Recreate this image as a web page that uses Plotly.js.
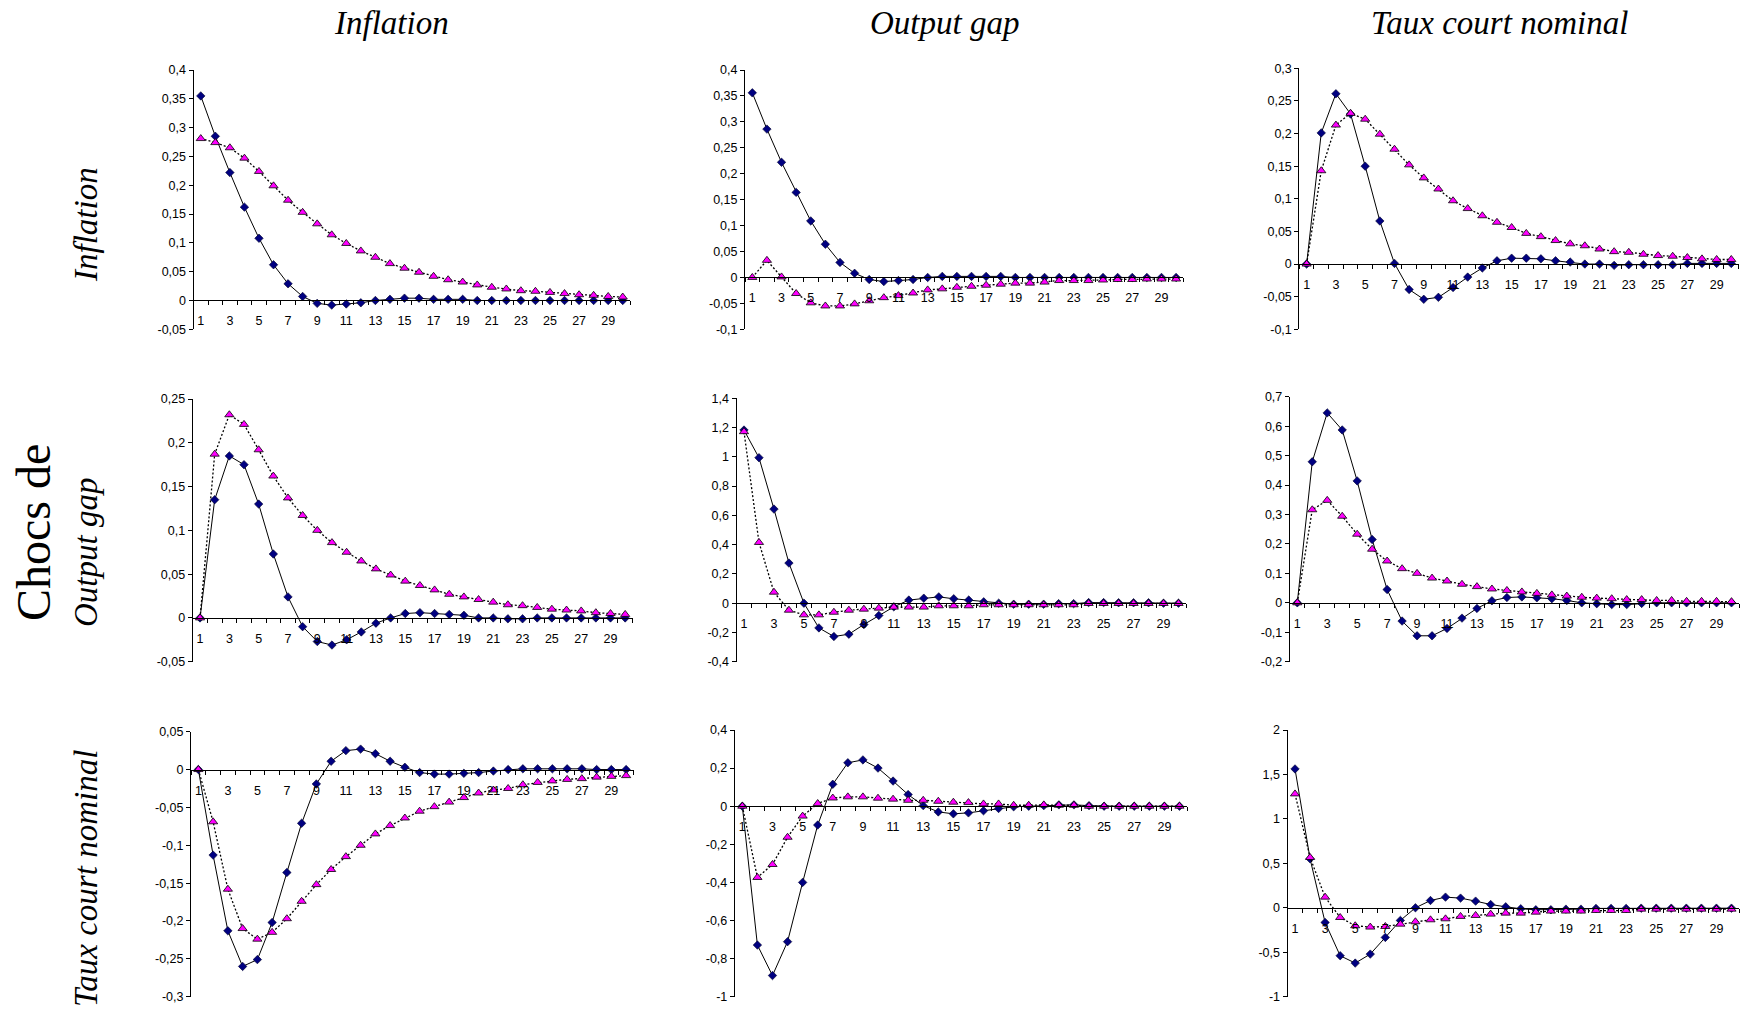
<!DOCTYPE html>
<html><head><meta charset="utf-8">
<script src="https://cdn.plot.ly/plotly-3.0.1.min.js"></script>
<style>html,body{margin:0;padding:0;background:#fff}#chart{width:1742px;height:1015px}</style>
</head><body><div id="chart"></div>
<script>
// ---------- data ----------
const periods = [1,2,3,4,5,6,7,8,9,10,11,12,13,14,15,16,17,18,19,20,21,22,23,24,25,26,27,28,29,30];
const xTickVals = [1,3,5,7,9,11,13,15,17,19,21,23,25,27,29];
const xTickText = ['1','3','5','7','9','11','13','15','17','19','21','23','25','27','29'];

const columnTitles = ['Inflation','Output gap','Taux court nominal'];
const rowTitles = ['Inflation','Output gap','Taux court nominal'];
const shockLabel = 'Chocs de';

// Shock: Inflation
const inflInfl_A = [0.355,0.285,0.222,0.162,0.108,0.062,0.029,0.007,-0.005,-0.008,-0.006,-0.004,0.000,0.002,0.004,0.004,0.002,0.002,0.002,0.000,0,0,0,0,0,0,0,0,0,0];
const inflInfl_B = [0.281,0.274,0.265,0.247,0.224,0.199,0.174,0.153,0.133,0.114,0.099,0.086,0.075,0.064,0.056,0.049,0.042,0.036,0.032,0.027,0.023,0.020,0.017,0.016,0.014,0.012,0.010,0.009,0.007,0.006];
const inflGap_A = [0.356,0.286,0.222,0.164,0.109,0.064,0.029,0.008,-0.004,-0.008,-0.006,-0.004,0.000,0.002,0.002,0.002,0.002,0.002,0,0,0,0,0,0,0,0,0,0,0,0];
const inflGap_B = [0.000,0.033,0.001,-0.031,-0.049,-0.055,-0.055,-0.051,-0.045,-0.039,-0.035,-0.030,-0.024,-0.022,-0.019,-0.017,-0.015,-0.013,-0.011,-0.011,-0.009,-0.006,-0.006,-0.006,-0.005,-0.004,-0.004,-0.003,-0.003,-0.003];
const inflRate_A = [0,0.201,0.261,0.230,0.150,0.066,0.001,-0.039,-0.054,-0.051,-0.036,-0.020,-0.006,0.005,0.009,0.009,0.008,0.005,0.003,0,0,-0.002,-0.001,-0.001,-0.001,-0.001,0.001,0.001,0.001,0.001];
const inflRate_B = [0,0.143,0.213,0.231,0.222,0.199,0.176,0.152,0.132,0.115,0.097,0.085,0.074,0.064,0.056,0.047,0.042,0.036,0.031,0.028,0.023,0.019,0.018,0.015,0.013,0.012,0.010,0.008,0.007,0.007];

// Shock: Output gap
const gapInfl_A = [0,0.135,0.185,0.175,0.130,0.073,0.024,-0.010,-0.027,-0.031,-0.025,-0.016,-0.006,0,0.005,0.006,0.005,0.004,0.003,0,0,-0.001,-0.001,0,0,0,0,0,0,0];
const gapInfl_B = [0,0.187,0.232,0.221,0.192,0.162,0.137,0.117,0.100,0.086,0.075,0.065,0.056,0.049,0.042,0.037,0.032,0.027,0.024,0.021,0.018,0.015,0.014,0.012,0.010,0.009,0.008,0.006,0.005,0.004];
const gapGap_A = [1.183,0.994,0.643,0.274,0,-0.169,-0.228,-0.212,-0.146,-0.084,-0.025,0.021,0.034,0.043,0.030,0.021,0.009,0,-0.007,-0.007,-0.007,-0.003,-0.003,0.004,0.004,0.003,0.003,0.003,0,0];
const gapGap_B = [1.172,0.415,0.075,-0.048,-0.080,-0.080,-0.062,-0.048,-0.041,-0.034,-0.027,-0.027,-0.027,-0.018,-0.018,-0.018,-0.011,-0.011,-0.011,-0.011,-0.011,-0.011,-0.011,-0.002,-0.002,-0.002,-0.002,-0.002,-0.002,-0.002];
const gapRate_A = [0,0.479,0.645,0.587,0.414,0.215,0.045,-0.062,-0.112,-0.112,-0.087,-0.052,-0.019,0.007,0.018,0.020,0.017,0.014,0.008,0,-0.003,-0.006,-0.006,-0.002,0,0,0,0,0,0];
const gapRate_B = [0,0.316,0.348,0.294,0.233,0.182,0.142,0.116,0.100,0.084,0.074,0.063,0.055,0.047,0.042,0.037,0.032,0.027,0.023,0.019,0.016,0.014,0.011,0.011,0.008,0.008,0.005,0.005,0.005,0.004];

// Shock: Taux court nominal
const rateInfl_A = [0,-0.113,-0.213,-0.260,-0.251,-0.202,-0.136,-0.071,-0.019,0.011,0.025,0.027,0.021,0.011,0.003,-0.004,-0.006,-0.006,-0.005,-0.004,-0.002,0,0.001,0.001,0.001,0.001,0.001,0,0,0];
const rateInfl_B = [0,-0.069,-0.158,-0.210,-0.224,-0.215,-0.197,-0.174,-0.152,-0.132,-0.115,-0.100,-0.085,-0.074,-0.064,-0.055,-0.049,-0.043,-0.037,-0.031,-0.027,-0.025,-0.020,-0.017,-0.015,-0.013,-0.012,-0.010,-0.009,-0.008];
const rateGap_A = [0,-0.729,-0.889,-0.711,-0.400,-0.099,0.115,0.228,0.243,0.200,0.132,0.061,0.003,-0.030,-0.040,-0.035,-0.024,-0.012,-0.003,0,0.003,0.007,0.007,0.003,0,0,0,0,0,0];
const rateGap_B = [0,-0.374,-0.306,-0.163,-0.052,0.014,0.043,0.049,0.049,0.042,0.037,0.031,0.031,0.026,0.021,0.019,0.012,0.012,0.005,0.005,0.007,0.005,0.005,0,0,0,0,0,0,0];
const rateRate_A = [1.562,0.551,-0.165,-0.539,-0.622,-0.521,-0.333,-0.142,0,0.082,0.120,0.109,0.075,0.037,0.011,-0.011,-0.022,-0.022,-0.015,-0.015,-0.007,-0.007,-0.007,-0.004,-0.004,-0.004,-0.004,-0.004,-0.004,-0.004];
const rateRate_B = [1.281,0.566,0.120,-0.109,-0.202,-0.217,-0.210,-0.184,-0.157,-0.135,-0.124,-0.097,-0.086,-0.071,-0.060,-0.060,-0.049,-0.037,-0.037,-0.037,-0.030,-0.030,-0.030,-0.015,-0.015,-0.015,-0.015,-0.015,-0.015,-0.015];

// y tick values / labels per panel
const yVals11 = [-0.05,0,0.05,0.1,0.15,0.2,0.25,0.3,0.35,0.4];
const yText11 = ['-0,05','0','0,05','0,1','0,15','0,2','0,25','0,3','0,35','0,4'];
const yVals12 = [-0.1,-0.05,0,0.05,0.1,0.15,0.2,0.25,0.3,0.35,0.4];
const yText12 = ['-0,1','-0,05','0','0,05','0,1','0,15','0,2','0,25','0,3','0,35','0,4'];
const yVals13 = [-0.1,-0.05,0,0.05,0.1,0.15,0.2,0.25,0.3];
const yText13 = ['-0,1','-0,05','0','0,05','0,1','0,15','0,2','0,25','0,3'];
const yVals21 = [-0.05,0,0.05,0.1,0.15,0.2,0.25];
const yText21 = ['-0,05','0','0,05','0,1','0,15','0,2','0,25'];
const yVals22 = [-0.4,-0.2,0,0.2,0.4,0.6,0.8,1,1.2,1.4];
const yText22 = ['-0,4','-0,2','0','0,2','0,4','0,6','0,8','1','1,2','1,4'];
const yVals23 = [-0.2,-0.1,0,0.1,0.2,0.3,0.4,0.5,0.6,0.7];
const yText23 = ['-0,2','-0,1','0','0,1','0,2','0,3','0,4','0,5','0,6','0,7'];
const yVals31 = [-0.3,-0.25,-0.2,-0.15,-0.1,-0.05,0,0.05];
const yText31 = ['-0,3','-0,25','-0,2','-0,15','-0,1','-0,05','0','0,05'];
const yVals32 = [-1,-0.8,-0.6,-0.4,-0.2,0,0.2,0.4];
const yText32 = ['-1','-0,8','-0,6','-0,4','-0,2','0','0,2','0,4'];
const yVals33 = [-1,-0.5,0,0.5,1,1.5,2];
const yText33 = ['-1','-0,5','0','0,5','1','1,5','2'];

// ---------- layout geometry (pixels: left, right, top, bottom) ----------
const W = 1742, H = 1015;
const boxes = [
  [193.5,630,70,329.3],[745,1183.4,70,329.3],[1299.3,1738.6,68.3,329.3],
  [192.7,632.5,399,661.7],[736.5,1186,398.3,661.7],[1289.8,1739,396.7,661.7],
  [191,633.5,731.7,996.7],[734.8,1187,730,996.7],[1287.5,1739,730,996.7]
];

const panels = [
  [inflInfl_A, inflInfl_B, yVals11, yText11],
  [inflGap_A,  inflGap_B,  yVals12, yText12],
  [inflRate_A, inflRate_B, yVals13, yText13],
  [gapInfl_A,  gapInfl_B,  yVals21, yText21],
  [gapGap_A,   gapGap_B,   yVals22, yText22],
  [gapRate_A,  gapRate_B,  yVals23, yText23],
  [rateInfl_A, rateInfl_B, yVals31, yText31],
  [rateGap_A,  rateGap_B,  yVals32, yText32],
  [rateRate_A, rateRate_B, yVals33, yText33]
];

const tickFont = {family:'Liberation Sans, Arial, sans-serif', size:12.5, color:'#000'};
const boundaries = [0.5].concat(periods.map(p => p + 0.5));

const traces = [];
const layout = {
  width: W, height: H,
  margin: {l:0, r:0, t:0, b:0},
  paper_bgcolor: '#fff', plot_bgcolor: '#fff',
  showlegend: false,
  annotations: []
};

panels.forEach((p, i) => {
  const k = i + 1;
  const xa = k === 1 ? 'x' : 'x' + k;
  const ya = k === 1 ? 'y' : 'y' + k;
  const [A, B, yv, yt] = p;
  const [l, r, t, b] = boxes[i];
  const ymin = yv[0], ymax = yv[yv.length - 1];
  const yd0 = 1 - b / H, yd1 = 1 - t / H;
  const zeroPos = yd0 + (0 - ymin) / (ymax - ymin) * (yd1 - yd0);

  traces.push({
    x: periods, y: A, xaxis: xa, yaxis: ya, type: 'scatter', mode: 'lines+markers',
    line: {color: '#000', width: 1},
    marker: {symbol: 'diamond', size: 6.5, color: '#000080', line: {color: '#00002a', width: 0.6}},
    hoverinfo: 'skip'
  });
  traces.push({
    x: periods, y: B, xaxis: xa, yaxis: ya, type: 'scatter', mode: 'lines+markers',
    line: {color: '#000', width: 1.3, dash: '2px,2px'},
    marker: {symbol: 'triangle-up', size: 8, color: '#ff00ff', line: {color: '#000', width: 0.8}},
    hoverinfo: 'skip'
  });

  layout['xaxis' + (k === 1 ? '' : k)] = {
    domain: [l / W, r / W], range: [0.5, 30.5],
    anchor: 'free', position: zeroPos,
    showline: true, linecolor: '#000', linewidth: 1,
    showgrid: false, zeroline: false,
    tickmode: 'array', tickvals: xTickVals, ticktext: xTickText,
    ticks: '', ticklabelstandoff: 9,
    tickfont: tickFont,
    minor: {tickmode: 'array', tickvals: boundaries, ticks: 'outside', ticklen: 4, tickcolor: '#000', tickwidth: 1, showgrid: false},
    fixedrange: true
  };
  layout['yaxis' + (k === 1 ? '' : k)] = {
    domain: [yd0, yd1], range: [ymin, ymax], anchor: xa,
    showline: true, linecolor: '#000', linewidth: 1,
    showgrid: false, zeroline: false,
    tickmode: 'array', tickvals: yv, ticktext: yt,
    ticks: 'outside', ticklen: 4, tickcolor: '#000',
    tickfont: tickFont, fixedrange: true
  };
});

// column titles
const titleFont = {family: 'Liberation Serif, serif', size: 33, color: '#000', style: 'italic'};
const colCenters = [391, 944, 1499];
columnTitles.forEach((txt, j) => {
  layout.annotations.push({
    text: '<i>' + txt + '</i>', xref: 'paper', yref: 'paper',
    x: colCenters[j] / W, y: 1 - 23 / H, xanchor: 'center', yanchor: 'middle',
    showarrow: false, font: titleFont
  });
});
// row titles
const rowCenters = [225, 553, 879];
rowTitles.forEach((txt, j) => {
  layout.annotations.push({
    text: '<i>' + txt + '</i>', xref: 'paper', yref: 'paper',
    x: 86 / W, y: 1 - rowCenters[j] / H, xanchor: 'center', yanchor: 'middle',
    textangle: -90, showarrow: false, font: titleFont
  });
});
layout.annotations.push({
  text: shockLabel, xref: 'paper', yref: 'paper',
  x: 33 / W, y: 1 - 533 / H, xanchor: 'center', yanchor: 'middle',
  textangle: -90, showarrow: false,
  font: {family: 'Liberation Serif, serif', size: 48, color: '#000'}
});

Plotly.newPlot('chart', traces, layout, {staticPlot: true, displayModeBar: false});
</script></body></html>
